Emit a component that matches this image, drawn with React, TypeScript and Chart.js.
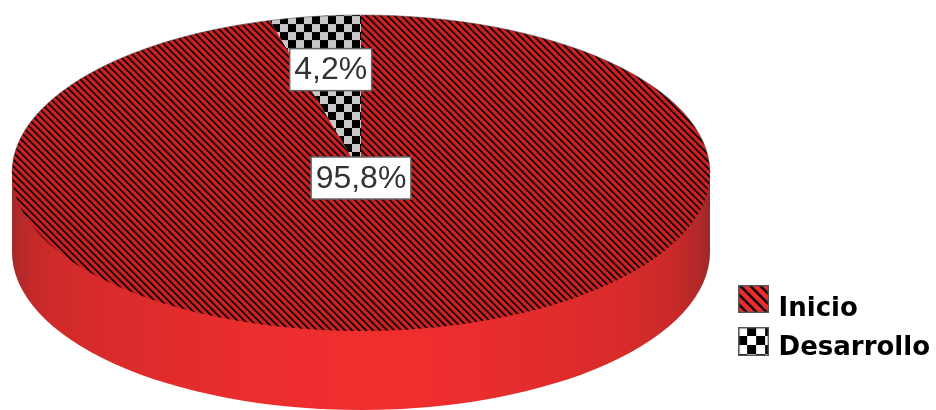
import React, { useEffect, useRef } from "react";
import { Chart, registerables } from "chart.js";

Chart.register(...registerables);

const categories = ["Inicio", "Desarrollo"];
const percentages = [95.8, 4.2];
const labelRadiusFractions = [0, 0.66];
const labelYOffsets = [5, 0];

const TOP = { cx: 361, cy: 173, rx: 349, ry: 158, depth: 79 };
const WALL_STOPS: [number, string][] = [
  [0, "#a32a2a"], [0.012, "#b52929"], [0.03, "#c42929"], [0.06, "#cf2a2a"],
  [0.12, "#d82b2b"], [0.25, "#e42c2c"], [0.4, "#ee2e2e"], [0.58, "#f02e2e"],
  [0.75, "#e42c2c"], [0.88, "#d82b2b"], [0.95, "#c82929"], [0.985, "#b02929"], [1, "#9c2828"],
];

function stripeTile(period: number, dark: number, red: string) {
  const c = document.createElement("canvas");
  c.width = c.height = period;
  const g = c.getContext("2d")!;
  g.fillStyle = red;
  g.fillRect(0, 0, period, period);
  for (let y = 0; y < period; y++)
    for (let x = 0; x < period; x++) {
      const d = (x - y + period) % period;
      if (d < dark) {
        g.fillStyle = "#120606";
        g.fillRect(x, y, 1, 1);
      } else if (d === dark) {
        g.fillStyle = "#6e1212";
        g.fillRect(x, y, 1, 1);
      }
    }
  return c;
}

function checkerTile(cell: number, light: string) {
  const c = document.createElement("canvas");
  c.width = c.height = cell * 2;
  const g = c.getContext("2d")!;
  g.fillStyle = "#000";
  g.fillRect(0, 0, cell * 2, cell * 2);
  g.fillStyle = light;
  g.fillRect(0, 0, cell, cell);
  g.fillRect(cell, cell, cell, cell);
  return c;
}

// The legend centres an image on its row, so empty space under the swatch lifts it above the text.
function swatch(tile: HTMLCanvasElement, w: number, h: number, lift: number) {
  const c = document.createElement("canvas");
  c.width = w;
  c.height = h + lift * 2;
  const g = c.getContext("2d")!;
  g.fillStyle = g.createPattern(tile, "repeat")!;
  g.fillRect(0, 0, w, h);
  g.strokeStyle = "#555";
  g.lineWidth = 1.5;
  g.strokeRect(0.75, 0.75, w - 1.5, h - 1.5);
  return c;
}

export default function App() {
  const ref = useRef<HTMLCanvasElement>(null);
  useEffect(() => {
    const ctx0 = ref.current!.getContext("2d")!;
    const patterns = [
      ctx0.createPattern(stripeTile(7, 2, "#cc2020"), "repeat")!,
      ctx0.createPattern(checkerTile(8, "#c8c8c8"), "repeat")!,
    ];
    const legendImages = [
      swatch(stripeTile(10, 3, "#ee2c2c"), 31, 28, 10),
      swatch(checkerTile(9, "#ffffff"), 31, 29, 6.5),
    ];

    const pie3d = {
      id: "pie3d",
      beforeDatasetsDraw(chart: any) {
        const c = chart.ctx as CanvasRenderingContext2D;
        const arc = chart.getDatasetMeta(0).data[0];
        const { cx, cy, rx, ry, depth } = TOP;
        const grad = c.createLinearGradient(cx - rx, 0, cx + rx, 0);
        WALL_STOPS.forEach(([o, col]) => grad.addColorStop(o, col));
        c.save();
        c.fillStyle = grad;
        c.beginPath();
        c.moveTo(cx - rx, cy);
        c.lineTo(cx - rx, cy + depth);
        c.ellipse(cx, cy + depth, rx, ry, 0, Math.PI, 0, true);
        c.lineTo(cx + rx, cy);
        c.closePath();
        c.fill();
        c.restore();

        c.save();
        c.translate(cx, cy);
        c.scale(rx / arc.outerRadius, ry / arc.outerRadius);
        c.translate(-arc.x, -arc.y);
        const inv = c.getTransform().inverse();
        patterns.forEach((p) => p.setTransform(inv));
      },
      afterDatasetsDraw(chart: any) {
        const c = chart.ctx as CanvasRenderingContext2D;
        c.restore();
        const { cx, cy, rx, ry } = TOP;
        c.save();
        c.strokeStyle = "rgba(70,70,70,0.55)";
        c.lineWidth = 1;
        c.beginPath();
        c.ellipse(cx, cy, rx, ry, 0, Math.PI, 2 * Math.PI);
        c.stroke();
        c.font = '32px "Liberation Sans"';
        c.textAlign = "center";
        c.textBaseline = "middle";
        const arcs = chart.getDatasetMeta(0).data;
        const vals = chart.data.datasets[0].data as number[];
        const order = [1, 0];
        order.forEach((i) => {
          const a = arcs[i];
          const mid = (a.startAngle + a.endAngle) / 2;
          const f = labelRadiusFractions[i];
          const x = cx + Math.cos(mid) * rx * f;
          const y = cy + Math.sin(mid) * ry * f + labelYOffsets[i];
          const text = vals[i].toFixed(1).replace(".", ",") + "%";
          const w = c.measureText(text).width + 9;
          const h = 42;
          c.fillStyle = "#fff";
          c.strokeStyle = "#666";
          c.lineWidth = 1.5;
          c.fillRect(x - w / 2, y - h / 2, w, h);
          c.strokeRect(x - w / 2, y - h / 2, w, h);
          c.fillStyle = "#333";
          c.fillText(text, x, y + 1);
        });
        c.restore();
      },
    };

    const chart = new Chart(ref.current!, {
      type: "pie",
      data: {
        labels: categories,
        datasets: [
          {
            data: percentages,
            backgroundColor: patterns as any,
            borderWidth: 0,
            clip: false as any,
          },
        ],
      },
      options: {
        responsive: false,
        devicePixelRatio: 1,
        animation: false,
        events: [],
        layout: { padding: { bottom: 36, right: -4 } },
        plugins: {
          tooltip: { enabled: false },
          title: { display: false },
          legend: {
            position: "right",
            align: "end",
            labels: {
              usePointStyle: true,
              pointStyleWidth: 24,
              padding: 13,
              color: "#000",
              font: { family: '"DejaVu Sans"', size: 26, weight: "bold" },
              generateLabels: (ch: any) =>
                ch.data.labels.map((t: string, i: number) => ({
                  text: t,
                  pointStyle: legendImages[i],
                  fillStyle: "#000",
                  strokeStyle: "transparent",
                  lineWidth: 0,
                  hidden: false,
                  index: i,
                })),
            },
          },
        },
      } as any,
      plugins: [pie3d as any],
    });
    return () => chart.destroy();
  }, []);
  return (
    <div style={{ position: "fixed", left: 0, top: 0, width: 936, height: 410, background: "#fff" }}>
      <canvas ref={ref} width={936} height={410} style={{ display: "block", filter: "blur(0.4px)" }} />
    </div>
  );
}
